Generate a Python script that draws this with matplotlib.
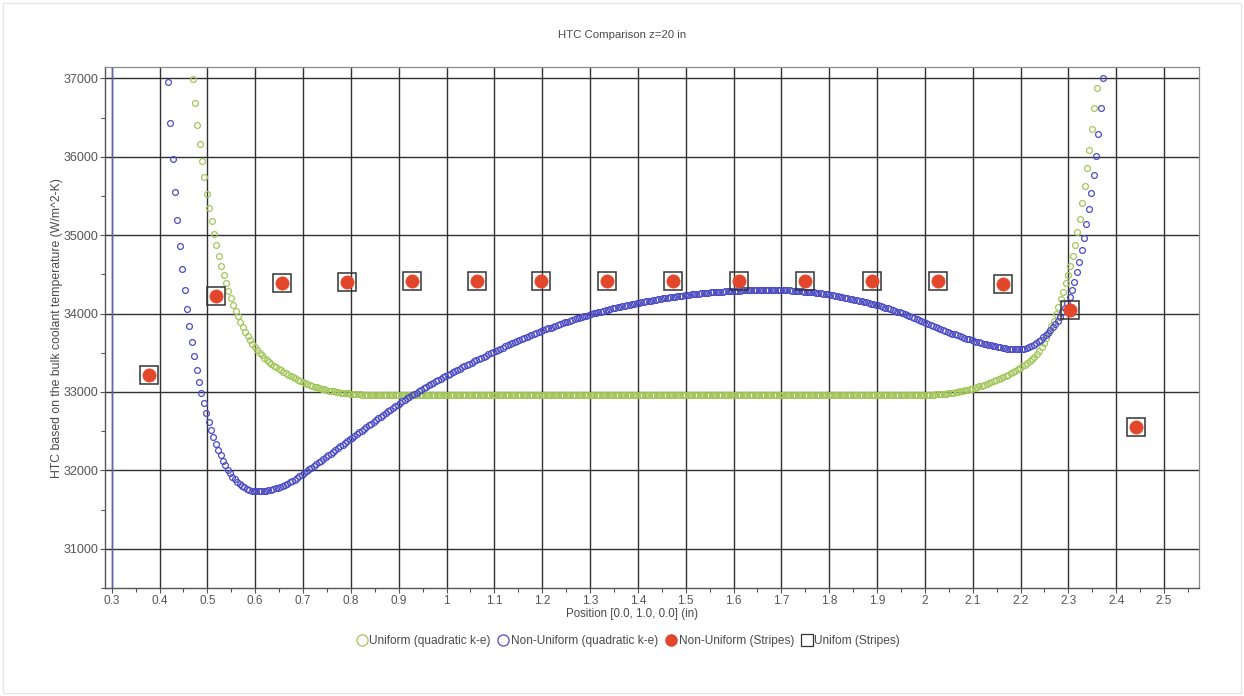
import matplotlib
matplotlib.use("Agg")
import matplotlib.pyplot as plt
from matplotlib.lines import Line2D
from matplotlib.patches import Rectangle

# HTC along the position line, z = 20 in
# (position [in], HTC [W/m^2-K]) pairs for each data series

uniform_ke = [
    (0.469, 36995), (0.474, 36690), (0.479, 36400), (0.484, 36160), (0.489, 35945),
    (0.494, 35735), (0.499, 35530), (0.504, 35350), (0.509, 35175), (0.514, 35015),
    (0.519, 34875), (0.524, 34740), (0.529, 34610), (0.534, 34495), (0.539, 34390),
    (0.544, 34292), (0.549, 34200), (0.554, 34115), (0.559, 34035), (0.564, 33963),
    (0.569, 33895), (0.574, 33831), (0.579, 33771), (0.584, 33715), (0.589, 33664),
    (0.594, 33617), (0.599, 33574), (0.604, 33535), (0.609, 33499), (0.614, 33466),
    (0.619, 33436), (0.624, 33408), (0.629, 33382), (0.634, 33358), (0.639, 33336),
    (0.644, 33315), (0.649, 33295), (0.654, 33276), (0.659, 33258), (0.664, 33240),
    (0.669, 33222), (0.674, 33205), (0.679, 33188), (0.684, 33172), (0.689, 33156),
    (0.694, 33141), (0.699, 33127), (0.704, 33114), (0.709, 33101), (0.714, 33089),
    (0.719, 33078), (0.724, 33067), (0.729, 33057), (0.734, 33048), (0.739, 33040),
    (0.744, 33032), (0.749, 33025), (0.754, 33018), (0.759, 33012), (0.764, 33006),
    (0.769, 33001), (0.774, 32996), (0.779, 32992), (0.784, 32988), (0.789, 32984),
    (0.794, 32981), (0.799, 32978), (0.804, 32975), (0.809, 32972), (0.814, 32970),
    (0.819, 32968), (0.824, 32966), (0.829, 32964), (0.834, 32963), (0.839, 32962),
    (0.844, 32961), (0.849, 32960),
    (0.854, 32960), (0.859, 32960), (0.864, 32960), (0.869, 32960), (0.874, 32960),
    (0.879, 32960), (0.884, 32960), (0.889, 32960), (0.894, 32960), (0.899, 32960),
    (0.904, 32960), (0.909, 32960), (0.914, 32960), (0.919, 32960), (0.924, 32960),
    (0.929, 32960), (0.934, 32960), (0.939, 32960), (0.944, 32960), (0.949, 32960),
    (0.954, 32960), (0.959, 32960), (0.964, 32960), (0.969, 32960), (0.974, 32960),
    (0.979, 32960), (0.984, 32960), (0.989, 32960), (0.994, 32960), (0.999, 32960),
    (1.004, 32960), (1.009, 32960), (1.014, 32960), (1.019, 32960), (1.024, 32960),
    (1.029, 32960), (1.034, 32960), (1.039, 32960), (1.044, 32960), (1.049, 32960),
    (1.054, 32960), (1.059, 32960), (1.064, 32960), (1.069, 32960), (1.074, 32960),
    (1.079, 32960), (1.084, 32960), (1.089, 32960), (1.094, 32960), (1.099, 32960),
    (1.104, 32960), (1.109, 32960), (1.114, 32960), (1.119, 32960), (1.124, 32960),
    (1.129, 32960), (1.134, 32960), (1.139, 32960), (1.144, 32960), (1.149, 32960),
    (1.154, 32960), (1.159, 32960), (1.164, 32960), (1.169, 32960), (1.174, 32960),
    (1.179, 32960), (1.184, 32960), (1.189, 32960), (1.194, 32960), (1.199, 32960),
    (1.204, 32960), (1.209, 32960), (1.214, 32960), (1.219, 32960), (1.224, 32960),
    (1.229, 32960), (1.234, 32960), (1.239, 32960), (1.244, 32960), (1.249, 32960),
    (1.254, 32960), (1.259, 32960), (1.264, 32960), (1.269, 32960), (1.274, 32960),
    (1.279, 32960), (1.284, 32960), (1.289, 32960), (1.294, 32960), (1.299, 32960),
    (1.304, 32960), (1.309, 32960), (1.314, 32960), (1.319, 32960), (1.324, 32960),
    (1.329, 32960), (1.334, 32960), (1.339, 32960), (1.344, 32960), (1.349, 32960),
    (1.354, 32960), (1.359, 32960), (1.364, 32960), (1.369, 32960), (1.374, 32960),
    (1.379, 32960), (1.384, 32960), (1.389, 32960), (1.394, 32960), (1.399, 32960),
    (1.404, 32960), (1.409, 32960), (1.414, 32960), (1.419, 32960), (1.424, 32960),
    (1.429, 32960), (1.434, 32960), (1.439, 32960), (1.444, 32960), (1.449, 32960),
    (1.454, 32960), (1.459, 32960), (1.464, 32960), (1.469, 32960), (1.474, 32960),
    (1.479, 32960), (1.484, 32960), (1.489, 32960), (1.494, 32960), (1.499, 32960),
    (1.504, 32960), (1.509, 32960), (1.514, 32960), (1.519, 32960), (1.524, 32960),
    (1.529, 32960), (1.534, 32960), (1.539, 32960), (1.544, 32960), (1.549, 32960),
    (1.554, 32960), (1.559, 32960), (1.564, 32960), (1.569, 32960), (1.574, 32960),
    (1.579, 32960), (1.584, 32960), (1.589, 32960), (1.594, 32960), (1.599, 32960),
    (1.604, 32960), (1.609, 32960), (1.614, 32960), (1.619, 32960), (1.624, 32960),
    (1.629, 32960), (1.634, 32960), (1.639, 32960), (1.644, 32960), (1.649, 32960),
    (1.654, 32960), (1.659, 32960), (1.664, 32960), (1.669, 32960), (1.674, 32960),
    (1.679, 32960), (1.684, 32960), (1.689, 32960), (1.694, 32960), (1.699, 32960),
    (1.704, 32960), (1.709, 32960), (1.714, 32960), (1.719, 32960), (1.724, 32960),
    (1.729, 32960), (1.734, 32960), (1.739, 32960), (1.744, 32960), (1.749, 32960),
    (1.754, 32960), (1.759, 32960), (1.764, 32960), (1.769, 32960), (1.774, 32960),
    (1.779, 32960), (1.784, 32960), (1.789, 32960), (1.794, 32960), (1.799, 32960),
    (1.804, 32960), (1.809, 32960), (1.814, 32960), (1.819, 32960), (1.824, 32960),
    (1.829, 32960), (1.834, 32960), (1.839, 32960), (1.844, 32960), (1.849, 32960),
    (1.854, 32960), (1.859, 32960), (1.864, 32960), (1.869, 32960), (1.874, 32960),
    (1.879, 32960), (1.884, 32960), (1.889, 32960), (1.894, 32960), (1.899, 32960),
    (1.904, 32960), (1.909, 32960), (1.914, 32960), (1.919, 32960), (1.924, 32960),
    (1.929, 32960), (1.934, 32960), (1.939, 32960), (1.944, 32960), (1.949, 32960),
    (1.954, 32960), (1.959, 32960), (1.964, 32960), (1.969, 32960), (1.974, 32960),
    (1.979, 32960), (1.984, 32960), (1.989, 32960), (1.994, 32960),
    (1.999, 32961), (2.004, 32962), (2.009, 32963), (2.014, 32965), (2.019, 32967),
    (2.024, 32969), (2.029, 32971), (2.034, 32974), (2.039, 32977), (2.044, 32980),
    (2.049, 32984), (2.054, 32988), (2.059, 32992), (2.064, 32997), (2.069, 33002),
    (2.074, 33008), (2.079, 33014), (2.084, 33021), (2.089, 33028), (2.094, 33036),
    (2.099, 33044), (2.104, 33053), (2.109, 33062), (2.114, 33072), (2.119, 33082),
    (2.124, 33093), (2.129, 33104), (2.134, 33116), (2.139, 33128), (2.144, 33140),
    (2.149, 33153), (2.154, 33166), (2.159, 33179), (2.164, 33193), (2.169, 33207),
    (2.174, 33222), (2.179, 33237), (2.184, 33253), (2.189, 33270), (2.194, 33287),
    (2.199, 33305), (2.204, 33325), (2.209, 33347), (2.214, 33370), (2.219, 33395),
    (2.224, 33422), (2.229, 33452), (2.234, 33487), (2.239, 33528), (2.244, 33575),
    (2.249, 33630), (2.254, 33692), (2.259, 33762), (2.264, 33835), (2.269, 33910),
    (2.274, 33990), (2.279, 34080), (2.284, 34180), (2.289, 34280), (2.294, 34385),
    (2.299, 34495), (2.304, 34612), (2.309, 34740), (2.314, 34880), (2.319, 35035),
    (2.324, 35210), (2.329, 35415), (2.334, 35630), (2.339, 35850), (2.344, 36090),
    (2.349, 36350), (2.354, 36615), (2.359, 36877),
]

nonuniform_ke = [
    (0.4175, 36950), (0.4225, 36430), (0.4275, 35965), (0.4325, 35555), (0.4375, 35190),
    (0.4425, 34860), (0.4475, 34565), (0.4525, 34300), (0.4575, 34060), (0.4625, 33840),
    (0.4675, 33640), (0.4725, 33455), (0.4775, 33285), (0.4825, 33130), (0.4875, 32985),
    (0.4925, 32855), (0.4975, 32735), (0.5025, 32622), (0.5075, 32520), (0.5125, 32427),
    (0.5175, 32340), (0.5225, 32262), (0.5275, 32190), (0.5325, 32124), (0.5375, 32064),
    (0.5425, 32010), (0.5475, 31962), (0.5525, 31920), (0.5575, 31884), (0.5625, 31853),
    (0.5675, 31826), (0.5725, 31803), (0.5775, 31783), (0.5825, 31766), (0.5875, 31752),
    (0.5925, 31742), (0.5975, 31735), (0.6025, 31731), (0.6075, 31731), (0.6125, 31733),
    (0.6175, 31736), (0.6225, 31740), (0.6275, 31745), (0.6325, 31752), (0.6375, 31760),
    (0.6425, 31769), (0.6475, 31779), (0.6525, 31790), (0.6575, 31802), (0.6625, 31816),
    (0.6675, 31831), (0.6725, 31847), (0.6775, 31864), (0.6825, 31882), (0.6875, 31902),
    (0.6925, 31923), (0.6975, 31945), (0.7025, 31967), (0.7075, 31990), (0.7125, 32012),
    (0.7175, 32035), (0.7225, 32057), (0.7275, 32080), (0.7325, 32102), (0.7375, 32125),
    (0.7425, 32147), (0.7475, 32170), (0.7525, 32192), (0.7575, 32215), (0.7625, 32237),
    (0.7675, 32260), (0.7725, 32282), (0.7775, 32305), (0.7825, 32327), (0.7875, 32350),
    (0.7925, 32372), (0.7975, 32395), (0.8025, 32417), (0.8075, 32440), (0.8125, 32462),
    (0.8175, 32485), (0.8225, 32507), (0.8275, 32530), (0.8325, 32552), (0.8375, 32575),
    (0.8425, 32597), (0.8475, 32620), (0.8525, 32642), (0.8575, 32664), (0.8625, 32687),
    (0.8675, 32709), (0.8725, 32731), (0.8775, 32753), (0.8825, 32775), (0.8875, 32797),
    (0.8925, 32818), (0.8975, 32839), (0.9025, 32859), (0.9075, 32879), (0.9125, 32898),
    (0.9175, 32917), (0.9225, 32936), (0.9275, 32955), (0.9325, 32974), (0.9375, 32993),
    (0.9425, 33011), (0.9475, 33029), (0.9525, 33047), (0.9575, 33065), (0.9625, 33083),
    (0.9675, 33100), (0.9725, 33117), (0.9775, 33134), (0.9825, 33151), (0.9875, 33168),
    (0.9925, 33185), (0.9975, 33202), (1.0025, 33219), (1.0075, 33235), (1.0125, 33251),
    (1.0175, 33267), (1.0225, 33283), (1.0275, 33299), (1.0325, 33315), (1.0375, 33330),
    (1.0425, 33345), (1.0475, 33360), (1.0525, 33375), (1.0575, 33390), (1.0625, 33405),
    (1.0675, 33420), (1.0725, 33435), (1.0775, 33450), (1.0825, 33465), (1.0875, 33480),
    (1.0925, 33495), (1.0975, 33510), (1.1025, 33524), (1.1075, 33538), (1.1125, 33552),
    (1.1175, 33566), (1.1225, 33580), (1.1275, 33594), (1.1325, 33608), (1.1375, 33622),
    (1.1425, 33636), (1.1475, 33650), (1.1525, 33663), (1.1575, 33676), (1.1625, 33689),
    (1.1675, 33702), (1.1725, 33715), (1.1775, 33728), (1.1825, 33741), (1.1875, 33753),
    (1.1925, 33765), (1.1975, 33777), (1.2025, 33789), (1.2075, 33800), (1.2125, 33811),
    (1.2175, 33822), (1.2225, 33833), (1.2275, 33844), (1.2325, 33855), (1.2375, 33866),
    (1.2425, 33877), (1.2475, 33888), (1.2525, 33898), (1.2575, 33908), (1.2625, 33918),
    (1.2675, 33927), (1.2725, 33937), (1.2775, 33946), (1.2825, 33956), (1.2875, 33965),
    (1.2925, 33975), (1.2975, 33984), (1.3025, 33993), (1.3075, 34001), (1.3125, 34009),
    (1.3175, 34017), (1.3225, 34025), (1.3275, 34033), (1.3325, 34041), (1.3375, 34049),
    (1.3425, 34057), (1.3475, 34065), (1.3525, 34073), (1.3575, 34079), (1.3625, 34086),
    (1.3675, 34092), (1.3725, 34099), (1.3775, 34105), (1.3825, 34112), (1.3875, 34118),
    (1.3925, 34125), (1.3975, 34131), (1.4025, 34138), (1.4075, 34143), (1.4125, 34149),
    (1.4175, 34154), (1.4225, 34160), (1.4275, 34165), (1.4325, 34171), (1.4375, 34176),
    (1.4425, 34182), (1.4475, 34187), (1.4525, 34192), (1.4575, 34197), (1.4625, 34201),
    (1.4675, 34206), (1.4725, 34210), (1.4775, 34215), (1.4825, 34219), (1.4875, 34224),
    (1.4925, 34228), (1.4975, 34233), (1.5025, 34237), (1.5075, 34240), (1.5125, 34243),
    (1.5175, 34247), (1.5225, 34250), (1.5275, 34253), (1.5325, 34256), (1.5375, 34259),
    (1.5425, 34263), (1.5475, 34266), (1.5525, 34269), (1.5575, 34271), (1.5625, 34273),
    (1.5675, 34276), (1.5725, 34278), (1.5775, 34280), (1.5825, 34282), (1.5875, 34285),
    (1.5925, 34287), (1.5975, 34289), (1.6025, 34291), (1.6075, 34292), (1.6125, 34293),
    (1.6175, 34295), (1.6225, 34296), (1.6275, 34297), (1.6325, 34298), (1.6375, 34299),
    (1.6425, 34300), (1.6475, 34301), (1.6525, 34302), (1.6575, 34302), (1.6625, 34303),
    (1.6675, 34303), (1.6725, 34303), (1.6775, 34303), (1.6825, 34302), (1.6875, 34302),
    (1.6925, 34301), (1.6975, 34300), (1.7025, 34299), (1.7075, 34297), (1.7125, 34296),
    (1.7175, 34294), (1.7225, 34292), (1.7275, 34290), (1.7325, 34288), (1.7375, 34286),
    (1.7425, 34284), (1.7475, 34281), (1.7525, 34279), (1.7575, 34276), (1.7625, 34273),
    (1.7675, 34270), (1.7725, 34266), (1.7775, 34262), (1.7825, 34258), (1.7875, 34254),
    (1.7925, 34249), (1.7975, 34244), (1.8025, 34239), (1.8075, 34234), (1.8125, 34228),
    (1.8175, 34222), (1.8225, 34216), (1.8275, 34210), (1.8325, 34204), (1.8375, 34198),
    (1.8425, 34191), (1.8475, 34184), (1.8525, 34177), (1.8575, 34170), (1.8625, 34163),
    (1.8675, 34156), (1.8725, 34149), (1.8775, 34142), (1.8825, 34135), (1.8875, 34128),
    (1.8925, 34121), (1.8975, 34114), (1.9025, 34105), (1.9075, 34096), (1.9125, 34086),
    (1.9175, 34076), (1.9225, 34066), (1.9275, 34056), (1.9325, 34046), (1.9375, 34036),
    (1.9425, 34026), (1.9475, 34016), (1.9525, 34004), (1.9575, 33992), (1.9625, 33979),
    (1.9675, 33967), (1.9725, 33954), (1.9775, 33942), (1.9825, 33929), (1.9875, 33917),
    (1.9925, 33904), (1.9975, 33892), (2.0025, 33879), (2.0075, 33867), (2.0125, 33854),
    (2.0175, 33842), (2.0225, 33829), (2.0275, 33817), (2.0325, 33804), (2.0375, 33792),
    (2.0425, 33779), (2.0475, 33767), (2.0525, 33755), (2.0575, 33744), (2.0625, 33733),
    (2.0675, 33722), (2.0725, 33711), (2.0775, 33701), (2.0825, 33690), (2.0875, 33680),
    (2.0925, 33670), (2.0975, 33660), (2.1025, 33651), (2.1075, 33642), (2.1125, 33634),
    (2.1175, 33626), (2.1225, 33618), (2.1275, 33610), (2.1325, 33602), (2.1375, 33595),
    (2.1425, 33588), (2.1475, 33581), (2.1525, 33574), (2.1575, 33568), (2.1625, 33562),
    (2.1675, 33557), (2.1725, 33552), (2.1775, 33548), (2.1825, 33545), (2.1875, 33543),
    (2.1925, 33542), (2.1975, 33542), (2.2025, 33545), (2.2075, 33551), (2.2125, 33559),
    (2.2175, 33570), (2.2225, 33584), (2.2275, 33601), (2.2325, 33621), (2.2375, 33644),
    (2.2425, 33669), (2.2475, 33696), (2.2525, 33725), (2.2575, 33756), (2.2625, 33789),
    (2.2675, 33825), (2.2725, 33865), (2.2775, 33910), (2.2825, 33960), (2.2875, 34014),
    (2.2925, 34070), (2.2975, 34132), (2.3025, 34208), (2.3075, 34300), (2.3125, 34405),
    (2.3175, 34528), (2.3225, 34661), (2.3275, 34808), (2.3325, 34968), (2.3375, 35143),
    (2.3425, 35333), (2.3475, 35540), (2.3525, 35765), (2.3575, 36013), (2.3625, 36288),
    (2.3675, 36620), (2.3725, 37010),
]

# Stripe-model results (one value per stripe)
stripe_x = [0.379, 0.517, 0.656, 0.791, 0.927, 1.063, 1.197, 1.335,
            1.473, 1.612, 1.749, 1.889, 2.027, 2.164, 2.304, 2.441]
nonuniform_stripes = [33220, 34220, 34385, 34405, 34410, 34412, 34415, 34410,
                      34415, 34418, 34418, 34418, 34416, 34380, 34050, 32550]
uniform_stripes = [33220, 34220, 34385, 34405, 34410, 34412, 34415, 34410,
                   34415, 34418, 34418, 34418, 34416, 34380, 34050, 32550]

x_ticks = [0.3, 0.4, 0.5, 0.6, 0.7, 0.8, 0.9, 1.0, 1.1, 1.2, 1.3, 1.4,
           1.5, 1.6, 1.7, 1.8, 1.9, 2.0, 2.1, 2.2, 2.3, 2.4, 2.5]
x_tick_labels = ["0.3", "0.4", "0.5", "0.6", "0.7", "0.8", "0.9", "1", "1.1",
                 "1.2", "1.3", "1.4", "1.5", "1.6", "1.7", "1.8", "1.9", "2",
                 "2.1", "2.2", "2.3", "2.4", "2.5"]
y_ticks = [31000, 32000, 33000, 34000, 35000, 36000, 37000]
y_tick_labels = ["31000", "32000", "33000", "34000", "35000", "36000", "37000"]

series_names = ["Uniform (quadratic k-e)", "Non-Uniform (quadratic k-e)",
                "Non-Uniform (Stripes)", "Unifom (Stripes)"]

GREEN = "#a2c65a"
BLUE = "#4c4cc4"
RED = "#e2472c"
SQUARE = "#333333"
GRID = "#303030"
TEXT = "#4a4a4a"

plt.rcParams["font.family"] = ["Liberation Sans", "DejaVu Sans"]

fig = plt.figure(figsize=(12.44, 6.96), dpi=100)
fig.patch.set_facecolor("white")
fig.patches.append(Rectangle((3 / 1244, 3 / 696), 1 - 6 / 1244, 1 - 6 / 696,
                             transform=fig.transFigure, fill=False,
                             edgecolor="#e6e6ee", linewidth=1.0))

ax = fig.add_axes([105 / 1244, 1 - 588 / 696, (1199 - 105) / 1244, (588 - 66.7) / 696])
ax.set_xlim(0.286, 2.573)
ax.set_ylim(30745, 37148)

ux, uy = zip(*uniform_ke)
nx, ny = zip(*nonuniform_ke)

ax.plot(ux, uy, ls="none", marker="o", ms=4.2, mfc="none", mec=GREEN, mew=0.9, zorder=3)
ax.plot(nx, ny, ls="none", marker="o", ms=4.2, mfc="none", mec=BLUE, mew=0.9, zorder=4)
ax.plot(stripe_x, nonuniform_stripes, ls="none", marker="o", ms=9.5, mfc=RED, mec=RED,
        mew=0.5, zorder=6)
ax.plot(stripe_x, uniform_stripes, ls="none", marker="s", ms=13, mfc="none", mec=SQUARE,
        mew=1.1, zorder=5)

# grid and axes styling
ax.set_xticks(x_ticks)
ax.set_xticklabels(x_tick_labels)
ax.set_yticks(y_ticks)
ax.set_yticklabels(y_tick_labels)
ax.set_xticks([t + 0.05 for t in x_ticks], minor=True)
ax.set_yticks([t + 500 for t in y_ticks[:-1]] + [30500], minor=True)
ax.grid(True, which="major", color=GRID, linewidth=1.0)
ax.set_axisbelow(True)
ax.axvline(0.3, color="#6262b4", linewidth=1.0, zorder=1.5)

ax.tick_params(which="major", direction="out", length=3.5, width=0.8, color="#555555",
               labelcolor="#555555", labelsize=9, pad=1.5)
ax.tick_params(axis="x", which="major", labelsize=8.5)
ax.tick_params(which="minor", direction="out", length=3, width=0.8, color="#555555")
for side in ("left", "bottom"):
    ax.spines[side].set_color("#555555")
    ax.spines[side].set_linewidth(1.0)
for side in ("top", "right"):
    ax.spines[side].set_color("#8a8a8a")
    ax.spines[side].set_linewidth(0.9)

fig.text(0.5, 1 - 35 / 696, "HTC Comparison z=20 in", ha="center", va="center",
         fontsize=8.2, color=TEXT)
fig.text(632 / 1244, 1 - 614 / 696, "Position [0.0, 1.0, 0.0] (in)", ha="center",
         va="center", fontsize=8.3, color=TEXT)
fig.text(57 / 1244, 1 - 328 / 696,
         "HTC based on the bulk coolant temperature (W/m^2-K)", ha="center",
         va="center", rotation=90, fontsize=8.8, color=TEXT)

handles = [
    Line2D([], [], ls="none", marker="o", ms=8, mfc="none", mec=GREEN, mew=0.9),
    Line2D([], [], ls="none", marker="o", ms=8, mfc="none", mec=BLUE, mew=0.9),
    Line2D([], [], ls="none", marker="o", ms=8, mfc=RED, mec=RED),
    Line2D([], [], ls="none", marker="s", ms=8, mfc="none", mec=SQUARE, mew=0.9),
]
fig.legend(handles, series_names, loc="center", bbox_to_anchor=(0.505, 1 - 641 / 696),
           ncol=4, frameon=False, fontsize=8.6, handlelength=0.9, handletextpad=0.2,
           columnspacing=0.6, labelcolor=TEXT)

fig.savefig("out.png", dpi=100, facecolor="white")
